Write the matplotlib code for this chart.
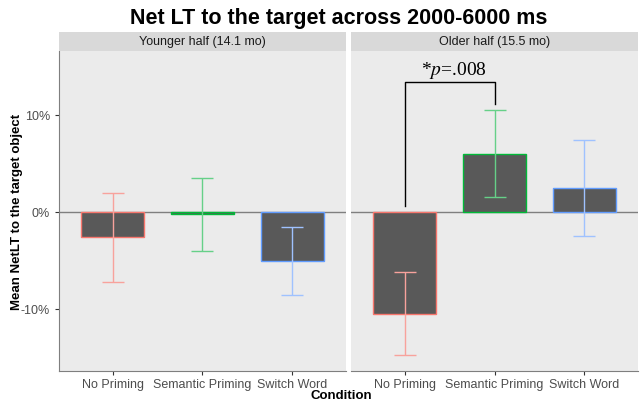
import numpy as np
import matplotlib
matplotlib.use('Agg')
import matplotlib.pyplot as plt
from matplotlib.ticker import FuncFormatter

conditions = ['No Priming', 'Semantic Priming', 'Switch Word']
panels = ['Younger half (14.1 mo)', 'Older half (15.5 mo)']
means_young = [-2.6, -0.25, -5.05]
se_young = [4.6, 3.75, 3.55]
means_old = [-10.5, 6.0, 2.45]
se_old = [4.3, 4.5, 4.95]
edge_colors = ['#F8766D', '#00BA38', '#619CFF']
err_colors = ['#F8A29C', '#66D088', '#9FC2FF']
yticks = [-10, 0, 10]

plt.rcParams['font.family'] = ['Liberation Sans', 'DejaVu Sans']
fig = plt.figure(figsize=(6.42, 4.02), dpi=100)

W, H = 642.0, 402.0
panel_x = [59, 351]
panel_w = 287
plot_top, plot_bot = 52, 372
strip_top = 33

x = np.arange(1, 4)
axes = []
for i, (means, se) in enumerate([(means_young, se_young), (means_old, se_old)]):
    ax = fig.add_axes([panel_x[i] / W, 1 - plot_bot / H, panel_w / W, (plot_bot - plot_top) / H])
    ax.set_facecolor('#EBEBEB')
    ax.axhline(0, color='#7F7F7F', lw=1.0, zorder=1)
    for j in range(3):
        ax.bar(x[j], means[j], width=0.7, color='#595959', edgecolor=edge_colors[j],
               linewidth=1.0, zorder=2)
        ax.errorbar(x[j], means[j], yerr=se[j], color=err_colors[j], capsize=8,
                    elinewidth=1.0, capthick=1.0, zorder=3)
    ax.set_xlim(0.4, 3.6)
    ax.set_ylim(-16.4, 16.6)
    ax.set_xticks(x)
    ax.set_xticklabels(conditions, fontsize=9, color='#4D4D4D')
    ax.set_yticks(yticks)
    ax.yaxis.set_major_formatter(FuncFormatter(lambda v, p: f'{int(v)}%'))
    ax.tick_params(axis='y', labelsize=9, labelcolor='#4D4D4D', color='#333333', length=3)
    ax.tick_params(axis='x', color='#333333', length=3, pad=2)
    for s in ['top', 'right']:
        ax.spines[s].set_visible(False)
    ax.spines['left'].set_color('#7F7F7F')
    ax.spines['bottom'].set_color('#7F7F7F')
    if i == 1:
        ax.spines['left'].set_visible(False)
        ax.tick_params(axis='y', left=False, labelleft=False)
    # strip
    sax = fig.add_axes([panel_x[i] / W, 1 - plot_top / H, panel_w / W, (plot_top - strip_top) / H])
    sax.set_facecolor('#D9D9D9')
    sax.set_xticks([])
    sax.set_yticks([])
    for s in sax.spines.values():
        s.set_visible(False)
    sax.text(0.5, 0.5, panels[i], ha='center', va='center', fontsize=9, color='#1A1A1A',
             transform=sax.transAxes)
    axes.append(ax)

# significance bracket on older panel
ax = axes[1]
ax.plot([1, 1, 2, 2], [0.6, 13.4, 13.4, 11.1], color='black', lw=1.0, zorder=4)
ax.text(1.55, 13.6, r'*$p$=.008', ha='center', va='bottom', fontsize=14,
        family='Liberation Serif', math_fontfamily='stix')

fig.text(0.527, 0.955, 'Net LT to the target across 2000-6000 ms', ha='center', va='center',
         fontsize=15.5, fontweight='bold')
fig.text(0.026, 1 - 212 / H, 'Mean NetLT to the target object', ha='center', va='center',
         rotation=90, fontsize=9.5, fontweight='bold')
fig.text(0.532, 1 - 396 / H, 'Condition', ha='center', va='center', fontsize=9.5, fontweight='bold')

fig.savefig('out.png', dpi=100)
